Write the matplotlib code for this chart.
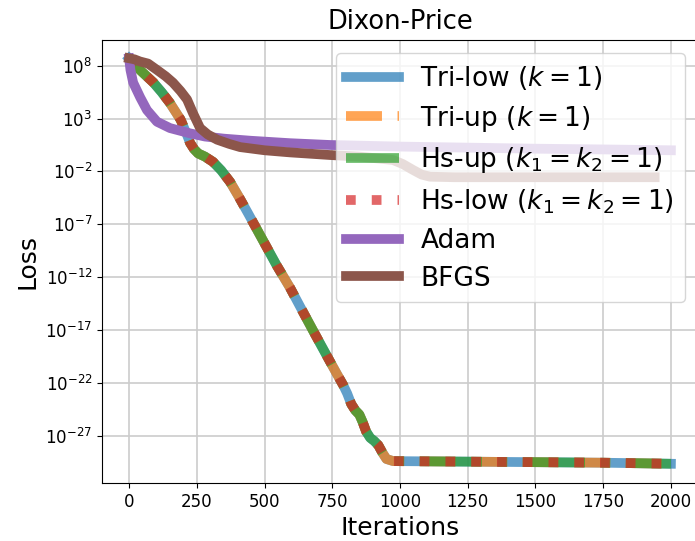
import numpy as np
import matplotlib.pyplot as plt

# iterations / log10(loss)
tri_hs_iter = [0, 20, 40, 65, 90, 120, 150, 170, 190, 210, 225, 240, 255, 280, 310, 340, 373, 405,
               440, 470, 500, 545, 594, 640, 680, 712, 742, 768, 790, 805, 820, 835, 850, 862, 875,
               890, 905, 920, 935, 950, 975, 1250, 1500, 1750, 2000]
tri_hs_log = [8.7, 8.2, 7.6, 7.0, 6.4, 5.5, 4.5, 3.7, 2.9, 1.7, 0.7, 0.1, -0.3, -0.6, -1.1, -1.9,
              -3.0, -4.4, -6.0, -7.4, -8.8, -10.9, -13.0, -15.2, -17.1, -18.6, -20.0, -21.2, -22.2,
              -23.0, -24.0, -24.6, -25.0, -25.7, -26.6, -27.2, -27.5, -27.9, -28.6, -29.2, -29.4,
              -29.45, -29.5, -29.55, -29.65]

adam_iter = [0, 5, 15, 41, 66, 103, 151, 225, 280, 350, 450, 594, 742, 1000, 1250, 1500, 1750, 2000]
adam_log = [8.7, 7.6, 6.4, 5.0, 3.8, 2.7, 2.1, 1.6, 1.3, 1.1, 0.9, 0.67, 0.5, 0.35, 0.25, 0.15, 0.08, 0.0]

bfgs_iter = [0, 20, 40, 70, 103, 135, 162, 190, 214, 236, 262, 290, 325, 370, 410, 500, 594, 742,
             850, 974, 1010, 1048, 1080, 1111, 1200, 1500, 1800, 1940]
bfgs_log = [8.7, 8.6, 8.4, 8.2, 7.6, 7.0, 6.4, 5.6, 4.8, 3.5, 2.1, 1.5, 1.0, 0.6, 0.3, 0.0, -0.2,
            -0.45, -0.6, -0.92, -1.3, -1.86, -2.3, -2.5, -2.55, -2.55, -2.55, -2.55]

labels = ["Tri-low ($k=1$)", "Tri-up ($k=1$)", "Hs-up ($k_1=k_2=1$)", "Hs-low ($k_1=k_2=1$)",
          "Adam", "BFGS"]

fig = plt.figure(figsize=(6.95, 5.41), dpi=100)
ax = fig.add_axes([102 / 695, 58 / 541, 596 / 695, 443 / 541])

y_main = 10.0 ** np.array(tri_hs_log)
ax.plot(tri_hs_iter, y_main, '-', color='tab:blue', lw=7, alpha=0.7, label=labels[0])
ax.plot(tri_hs_iter, y_main, '--', color='tab:orange', lw=7, alpha=0.7, label=labels[1])
ax.plot(tri_hs_iter, y_main, '-.', color='tab:green', lw=7, alpha=0.7, label=labels[2])
ax.plot(tri_hs_iter, y_main, ':', color='tab:red', lw=7, alpha=0.7, label=labels[3])
ax.plot(adam_iter, 10.0 ** np.array(adam_log), '-', color='tab:purple', lw=7, label=labels[4])
ax.plot(bfgs_iter, 10.0 ** np.array(bfgs_log), '-', color='tab:brown', lw=7, label=labels[5])

ax.set_yscale('log')
ax.set_xlim(-100, 2100)
ax.set_ylim(10 ** -31.47, 10 ** 10.43)
ax.set_yticks([10.0 ** k for k in range(8, -30, -5)])
ax.minorticks_off()
ax.set_xticks(range(0, 2001, 250))
ax.tick_params(labelsize=12)
ax.grid(True, color='#cccccc', lw=1.2)

ax.set_title("Dixon-Price", fontsize=18.5, pad=8)
ax.set_xlabel("Iterations", fontsize=18)
ax.set_ylabel("Loss", fontsize=18)
ax.legend(loc='upper right', fontsize=19, labelspacing=0.45)

fig.savefig("out.png", dpi=100)
